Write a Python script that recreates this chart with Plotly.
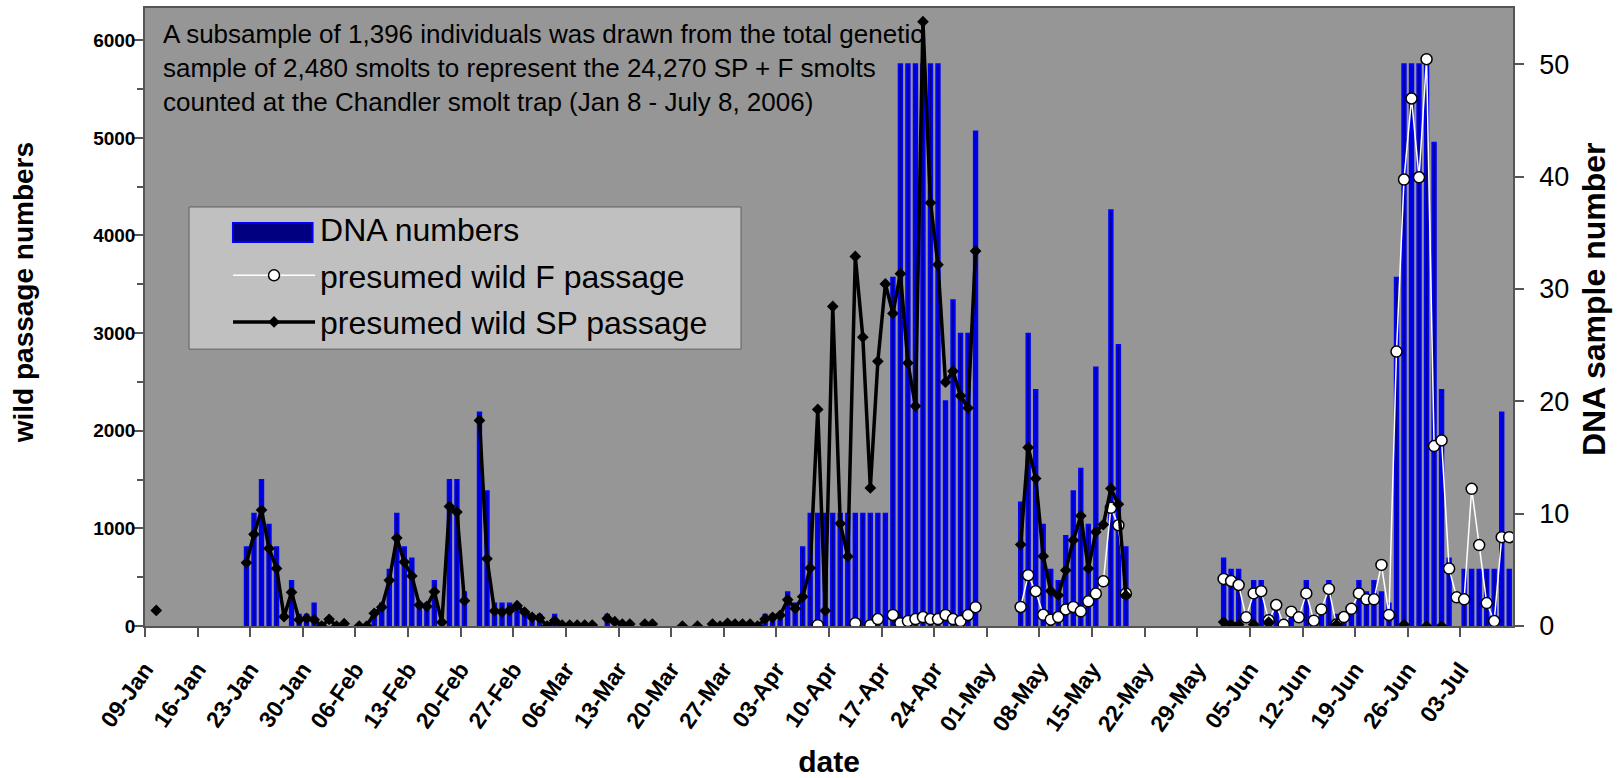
import pandas as pd
import plotly.graph_objects as go

N = None
# categories: one per day, 09-Jan-2006 .. 09-Jul-2006 (182 days)
start_date = "2006-01-09"
n_days = 182
dates = pd.date_range(start_date, periods=n_days, freq="D")
tick_dates = pd.date_range(start_date, "2006-07-03", freq="7D")
tick_labels = [d.strftime("%d-%b") for d in tick_dates]
# Excel puts the tick marks between categories: half a day before each labelled date
tick_positions = tick_dates - pd.Timedelta(hours=12)

# DNA sample numbers per day (right axis), one row per week starting at each tick label
dna_numbers = [
    N, N, N, N, N, N, N,
    N, N, N, N, N, N, 7,
    10, 13, 9, 7, N, 4, 1,
    1, 2, N, N, N, N, N,
    N, N, 1, 2, 5, 10, 7,
    6, 2, 2, 4, N, 13, 13,
    3, N, 19, 12, 2, 2, 2,
    2, 1, 1, 1, N, 1, N,
    N, N, N, N, N, 1, N,
    N, N, N, N, N, N, N,
    N, N, N, N, N, N, N,
    N, N, N, N, N, 1, 1,
    1, 3, 2, 7, 10, 10, 10,
    10, 10, 10, 10, 10, 10, 10,
    10, 31, 50, 50, 50, 50, 50,
    50, 20, 29, 26, 26, 44, N,
    N, N, N, N, 11, 26, 21,
    9, 5, 4, 8, 12, 14, 9,
    23, N, 37, 25, 7, N, N,
    N, N, N, N, N, N, N,
    N, N, N, 6, 5, 5, N,
    4, 4, 1, 2, N, 1, N,
    4, N, 1, 4, 1, 1, 1,
    4, 3, 4, 3, 2, 31, 50,
    50, 50, 50, 43, 21, 6, N,
    5, 5, 5, 5, 5, 19, 5,
]

# presumed wild F passage per day (left axis)
f_passage = [
    N, N, N, N, N, N, N,
    N, N, N, N, N, N, N,
    N, N, N, N, N, N, N,
    N, N, N, N, N, N, N,
    N, N, N, N, N, N, N,
    N, N, N, N, N, N, N,
    N, N, N, N, N, N, N,
    N, N, N, N, N, N, N,
    N, N, N, N, N, N, N,
    N, N, N, N, N, N, N,
    N, N, N, N, N, N, N,
    N, N, N, N, N, N, N,
    N, N, N, N, N, 8, N,
    N, N, N, 29, N, 8, 71,
    N, 113, 29, 50, 71, 92, 71,
    71, 113, 71, 50, 113, 193, N,
    N, N, N, N, 195, 520, 356,
    115, 65, 92, 170, 195, 150, 253,
    332, 458, 1210, 1032, 332, N, N,
    N, N, N, N, N, N, N,
    N, N, N, 482, 461, 420, 89,
    334, 357, 58, 215, 12, 147, 89,
    334, 54, 170, 380, 15, 92, 176,
    334, 273, 273, 626, 113, 2811, 4573,
    5403, 4596, 5806, 1843, 1901, 588, 294,
    273, 1405, 829, 235, 51, 910, 910,
]

# presumed wild SP passage per day (left axis)
sp_passage = [
    N, 160, N, N, N, N, N,
    N, N, N, N, N, N, 648,
    939, 1188, 795, 590, 96, 345, 65,
    78, 65, 0, 68, 0, 24, N,
    0, 0, 130, 193, 468, 902, 655,
    512, 215, 201, 352, 38, 1225, 1167,
    259, N, 2106, 689, 154, 143, 160,
    208, 143, 89, 82, 0, 55, 10,
    10, 10, 10, 10, N, 78, 44,
    20, 20, N, 20, 20, N, N,
    N, 0, N, 0, N, 20, 0,
    27, 20, 20, 20, 0, 72, 89,
    110, 270, 180, 300, 593, 2218, 157,
    3273, 1049, 713, 3785, 2958, 1414, 2711,
    3504, 3202, 3609, 2694, 2253, 6190, 4335,
    3701, 2497, 2610, 2358, 2233, 3840, N,
    N, N, N, N, 834, 1829, 1511,
    715, 359, 315, 571, 879, 1128, 588,
    964, 1039, 1409, 1248, 315, N, N,
    N, N, N, N, N, N, N,
    N, N, N, 40, 15, 15, N,
    15, N, 40, N, N, N, N,
    N, N, N, N, 15, N, N,
    N, N, N, N, N, N, 15,
    N, N, 0, N, 0, N, N,
    N, N, N, N, N, N, N,
]

note_lines = [
    "A subsample of 1,396 individuals was drawn from the total genetic",
    "sample of 2,480 smolts to represent the 24,270 SP + F smolts",
    "counted at the Chandler smolt trap (Jan 8 - July 8, 2006)",
]

ARIAL = "Liberation Sans, Arial, sans-serif"
AXIS_COLOR = "#555555"
BAR_FILL = "#000080"
BAR_EDGE = "#0000FF"

fig = go.Figure()
fig.add_trace(go.Bar(
    x=dates, y=dna_numbers, name="DNA numbers", yaxis="y",
    marker=dict(color=BAR_FILL, line=dict(color=BAR_EDGE, width=2)),
    legendgroup="dna", showlegend=False,
))
# legend entry for the bars (its wide swatch is drawn as a shape inside the legend box)
fig.add_trace(go.Scatter(
    x=[dates[0]], y=[None], name="DNA numbers", yaxis="y",
    mode="lines", line=dict(color=BAR_FILL, width=0),
    legendgroup="dna", hoverinfo="skip",
))
fig.add_trace(go.Scatter(
    x=dates, y=f_passage, name="presumed wild F passage", yaxis="y2",
    mode="lines+markers", connectgaps=False,
    line=dict(color="white", width=1.5),
    marker=dict(symbol="circle", size=11, color="white", line=dict(color="black", width=1.5)),
    legendgroup="f",
))
fig.add_trace(go.Scatter(
    x=dates, y=sp_passage, name="presumed wild SP passage", yaxis="y2",
    mode="lines+markers", connectgaps=False,
    line=dict(color="black", width=3.5),
    marker=dict(symbol="diamond", size=9, color="black"),
    legendgroup="sp",
))

fig.update_layout(
    width=1618, height=778,
    margin=dict(l=145, r=105, t=8, b=152, autoexpand=False),
    paper_bgcolor="white", plot_bgcolor="#969696",
    bargap=0.55,
    showlegend=True,
    legend=dict(
        x=0.0607, y=0.687, xanchor="left", yanchor="top",
        bgcolor="rgba(0,0,0,0)", borderwidth=0,
        font=dict(family=ARIAL, size=32, color="black"),
        itemwidth=82, traceorder="grouped", tracegroupgap=2,
    ),
    shapes=[
        dict(type="rect", xref="paper", yref="paper",
             x0=0.0322, x1=0.4357, y0=0.448, y1=0.678,
             fillcolor="#C0C0C0", line=dict(color="#606060", width=1), layer="above"),
        dict(type="rect", xref="paper", yref="paper",
             x0=0.0643, x1=0.1225, y0=0.6214, y1=0.6521,
             fillcolor=BAR_FILL, line=dict(color=BAR_EDGE, width=2), layer="above"),
    ],
    annotations=[
        dict(text="<br>".join(note_lines), xref="paper", yref="paper",
             x=0.012, y=0.985, xanchor="left", yanchor="top", align="left",
             showarrow=False, font=dict(family=ARIAL, size=26, color="black")),
        dict(text="wild passage numbers", xref="paper", yref="paper",
             x=-0.0892, y=0.54, xanchor="center", yanchor="middle", textangle=-90,
             showarrow=False, font=dict(family=ARIAL, size=28, color="black", weight="bold")),
        dict(text="DNA sample number", xref="paper", yref="paper",
             x=1.0592, y=0.529, xanchor="center", yanchor="middle", textangle=-90,
             showarrow=False, font=dict(family=ARIAL, size=32, color="black", weight="bold")),
    ],
    xaxis=dict(
        type="date", range=["2006-01-08 12:00", "2006-07-09 12:00"], automargin=False,
        tickmode="array", tickvals=tick_positions, ticktext=tick_labels, tickangle=-55,
        ticks="outside", ticklen=9, tickcolor=AXIS_COLOR, tickwidth=1.5,
        ticklabelstandoff=10,
        showline=True, linecolor=AXIS_COLOR, linewidth=1.5, mirror=True,
        showgrid=False, zeroline=False,
        tickfont=dict(family=ARIAL, size=23, color="black", weight="bold"),
        title=dict(text="date", standoff=20,
                   font=dict(family=ARIAL, size=30, color="black", weight="bold")),
    ),
    yaxis=dict(
        side="right", range=[0, 55], tickvals=[0, 10, 20, 30, 40, 50], automargin=False,
        ticks="outside", ticklen=9, tickcolor=AXIS_COLOR, tickwidth=1.5,
        ticklabelstandoff=10,
        showline=True, linecolor=AXIS_COLOR, linewidth=1.5,
        showgrid=False, zeroline=False,
        tickfont=dict(family=ARIAL, size=27, color="black"),
    ),
    yaxis2=dict(
        overlaying="y", side="left", range=[0, 6330], dtick=1000, tick0=0, automargin=False,
        ticks="outside", ticklen=10, tickcolor=AXIS_COLOR, tickwidth=1.5,
        ticklabelstandoff=-6,
        minor=dict(dtick=500, ticks="outside", ticklen=6, tickcolor=AXIS_COLOR, tickwidth=1.5, showgrid=False),
        showline=True, linecolor=AXIS_COLOR, linewidth=1.5,
        showgrid=False, zeroline=False,
        tickfont=dict(family=ARIAL, size=19, color="black", weight="bold"),
    ),
)

fig.write_html("out.html")
